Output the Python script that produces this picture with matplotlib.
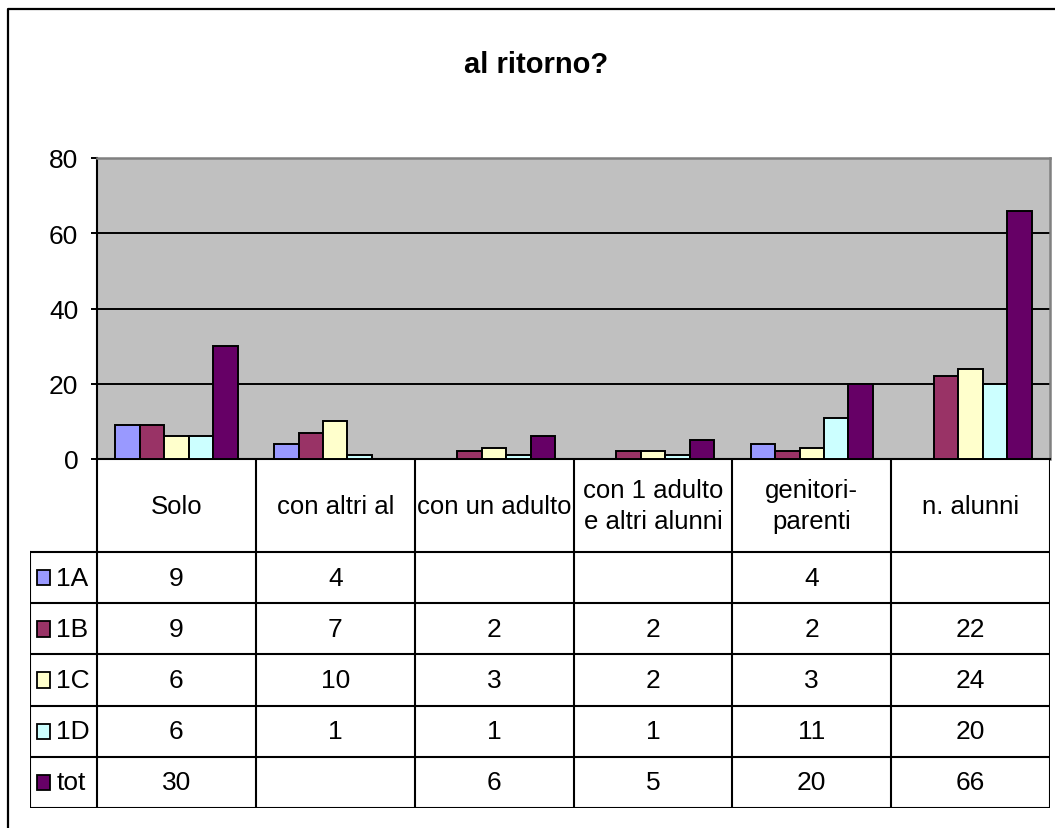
import numpy as np
import matplotlib
matplotlib.use('Agg')
import matplotlib.pyplot as plt
from matplotlib.lines import Line2D
from matplotlib.patches import Rectangle

plt.rcParams['font.family'] = ['Liberation Sans', 'DejaVu Sans']

categories = ['Solo', 'con altri al', 'con un adulto', 'con 1 adulto\ne altri alunni',
              'genitori-\nparenti', 'n. alunni']
series_names = ['1A', '1B', '1C', '1D', 'tot']
v_1a = [9, 4, None, None, 4, None]
v_1b = [9, 7, 2, 2, 2, 22]
v_1c = [6, 10, 3, 2, 3, 24]
v_1d = [6, 1, 1, 1, 11, 20]
v_tot = [30, None, 6, 5, 20, 66]
colors = ['#9999FF', '#993366', '#FFFFCC', '#CCFFFF', '#660066']
yticks = [0, 20, 40, 60, 80]

series = [v_1a, v_1b, v_1c, v_1d, v_tot]
FS = 19        # numbers and legend labels
FS_HDR = 18.5  # category names

W, H = 1055, 829
fig = plt.figure(figsize=(W / 100, H / 100), dpi=100)

# outer chart frame (extends beyond right and bottom edge)
fig.add_artist(Line2D([8 / W, 8 / W, 1.01], [-0.01, 1 - 10 / H, 1 - 10 / H],
                      transform=fig.transFigure, color='black', lw=1.6))

fig.text(536 / W, 1 - 65 / H, 'al ritorno?', ha='center', va='center',
         fontsize=21, fontweight='bold')

# bar area
ax = fig.add_axes([97 / W, (H - 460) / H, 953 / W, 301 / H])
ax.set_facecolor('#C0C0C0')
ncat = len(categories)
bw = 1 / 6.5
x = np.arange(ncat) + 0.5
for j, (vals, c) in enumerate(zip(series, colors)):
    vv = np.array([np.nan if v is None else v for v in vals], dtype=float)
    ax.bar(x + (j - 2) * bw, vv, width=bw, color=c, edgecolor='black', lw=1.4, zorder=3)
ax.set_xlim(0, ncat)
ax.set_ylim(0, 80)
ax.set_yticks(yticks)
ax.set_xticks([])
ax.yaxis.grid(True, color='black', lw=1.4, zorder=1)
ax.set_axisbelow(True)
ax.tick_params(axis='y', direction='out', length=4.5, width=1.4, pad=9, labelsize=FS)
ax.spines['left'].set_linewidth(1.5)
ax.spines['bottom'].set_linewidth(1.5)
ax.spines['top'].set_color('#808080')
ax.spines['right'].set_color('#808080')
ax.spines['top'].set_linewidth(1.8)
ax.spines['right'].set_linewidth(1.8)

# data table below
leg_w = 67 / (953 / ncat)
tab = fig.add_axes([30 / W, (H - 809) / H, 1020 / W, 349 / H])
tab.set_xlim(-leg_w, ncat)
hdr = 1.82
nrow = len(series_names)
tab.set_ylim(hdr + nrow, 0)
tab.axis('off')
lk = dict(color='black', lw=1.5, solid_capstyle='projecting')
for i in range(ncat + 1):
    tab.plot([i, i], [0, hdr + nrow], **lk)
tab.plot([-leg_w, -leg_w], [hdr, hdr + nrow], **lk)
for r in range(nrow + 1):
    tab.plot([-leg_w, ncat], [hdr + r, hdr + r], **lk)
for i, cat in enumerate(categories):
    tab.text(i + 0.5, hdr / 2, cat, ha='center', va='center', fontsize=FS_HDR, linespacing=1.4)
for r, (name, vals, c) in enumerate(zip(series_names, series, colors)):
    yc = hdr + r + 0.5
    tab.add_patch(Rectangle((-leg_w + 0.044, yc - 0.15), 0.085, 0.30,
                            facecolor=c, edgecolor='black', lw=1.3))
    tab.text(-leg_w + 0.165, yc, name, ha='left', va='center', fontsize=FS)
    for i, v in enumerate(vals):
        if v is not None:
            tab.text(i + 0.5, yc, str(v), ha='center', va='center', fontsize=FS)

fig.savefig('out.png', dpi=100)
